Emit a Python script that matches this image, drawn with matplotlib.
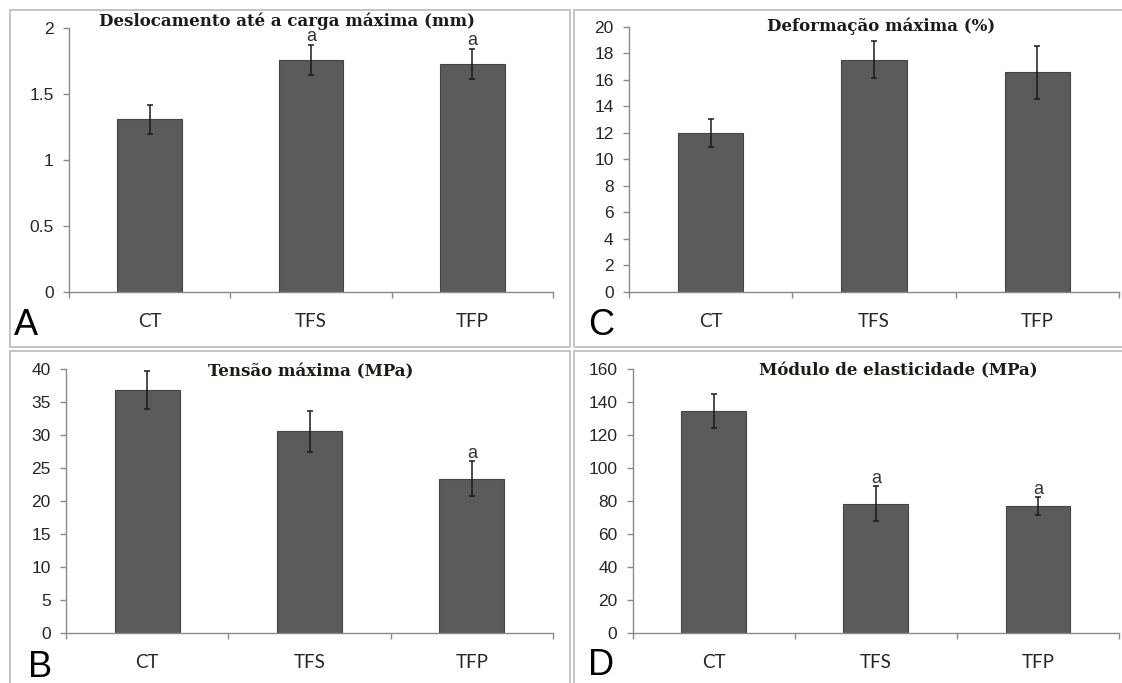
import matplotlib
matplotlib.use("Agg")
import matplotlib.pyplot as plt
from matplotlib.patches import Rectangle
from matplotlib.ticker import FuncFormatter

W, H = 1122, 683

categories = ["CT", "TFS", "TFP"]

desloc = [1.31, 1.76, 1.73]
desloc_err = [0.11, 0.115, 0.115]
desloc_sig = ["", "a", "a"]

deform = [11.95, 17.5, 16.55]
deform_err = [1.05, 1.4, 2.0]
deform_sig = ["", "", ""]

tensao = [36.9, 30.6, 23.4]
tensao_err = [2.85, 3.1, 2.65]
tensao_sig = ["", "", "a"]

modulo = [135.0, 78.5, 77.2]
modulo_err = [10.3, 10.6, 5.3]
modulo_sig = ["", "a", "a"]

titles = ["Deslocamento até a carga máxima (mm)", "Deformação máxima (%)",
          "Tensão máxima (MPa)", "Módulo de elasticidade (MPa)"]
panel_letters = ["A", "C", "B", "D"]

BAR = "#5b5b5b"
EDGE = "#444444"
SPINE = "#8a8a8a"
TXT = "#262626"

fig = plt.figure(figsize=(W / 100, H / 100), dpi=100)


def px_rect(x0, x1, ytop, ybot):
    return [x0 / W, 1 - ybot / H, (x1 - x0) / W, (ybot - ytop) / H]


# panel frames
for (x0, y0, x1, y1) in [(10, 10, 570, 347), (574, 10, 1130, 347),
                         (10, 351, 570, 695), (574, 351, 1130, 695)]:
    fig.patches.append(Rectangle((x0 / W, 1 - y1 / H), (x1 - x0) / W, (y1 - y0) / H,
                                 transform=fig.transFigure, fill=False,
                                 edgecolor="#c4c4c4", linewidth=1.4))

panels = [
    dict(vals=desloc, err=desloc_err, sig=desloc_sig, ymax=2, step=0.5,
         rect=px_rect(69, 553, 28.3, 291.7), title=titles[0], tpos=(287, 21.7),
         letter=panel_letters[0], lpos=(14, 335)),
    dict(vals=deform, err=deform_err, sig=deform_sig, ymax=20, step=2,
         rect=px_rect(629, 1119, 26.7, 291.7), title=titles[1], tpos=(881, 26.7),
         letter=panel_letters[1], lpos=(588, 335)),
    dict(vals=tensao, err=tensao_err, sig=tensao_sig, ymax=40, step=5,
         rect=px_rect(66, 553, 369.3, 633.3), title=titles[2], tpos=(311, 372.3),
         letter=panel_letters[2], lpos=(28, 677)),
    dict(vals=modulo, err=modulo_err, sig=modulo_sig, ymax=160, step=20,
         rect=px_rect(632.7, 1119, 369.3, 633.3), title=titles[3], tpos=(898, 370.7),
         letter=panel_letters[3], lpos=(588, 675)),
]

for p in panels:
    ax = fig.add_axes(p["rect"])
    x = list(range(len(categories)))
    ax.bar(x, p["vals"], width=0.4, color=BAR, edgecolor=EDGE, linewidth=0.8, zorder=2)
    ax.errorbar(x, p["vals"], yerr=p["err"], fmt="none", ecolor="#1a1a1a",
                elinewidth=1.1, capsize=2.3, capthick=1.1, zorder=3)
    for i, s in enumerate(p["sig"]):
        if s:
            ax.annotate(s, xy=(i, p["vals"][i] + p["err"][i]), xytext=(0, 2.5),
                        textcoords="offset points", ha="center", va="baseline",
                        fontsize=13, color="#333333", family="Liberation Sans",
                        annotation_clip=False, zorder=4)
    ax.set_xlim(-0.5, len(categories) - 0.5)
    ax.set_ylim(0, p["ymax"])
    n = int(round(p["ymax"] / p["step"]))
    ax.set_yticks([k * p["step"] for k in range(n + 1)])
    ax.yaxis.set_major_formatter(FuncFormatter(lambda v, pos: "%g" % v))
    ax.set_xticks([k - 0.5 for k in range(len(categories) + 1)])
    ax.set_xticklabels([])
    for s in ["top", "right"]:
        ax.spines[s].set_visible(False)
    for s in ["left", "bottom"]:
        ax.spines[s].set_color(SPINE)
        ax.spines[s].set_linewidth(1.0)
    ax.tick_params(axis="y", direction="out", length=4, width=1.0, color=SPINE,
                   pad=7, labelsize=12.5, labelcolor=TXT)
    ax.tick_params(axis="x", direction="out", length=4, width=1.0, color=SPINE)
    for lab in ax.get_yticklabels():
        lab.set_family("Liberation Sans")
    for i, c in enumerate(categories):
        ax.annotate(c, xy=(i, 0), xytext=(0, -25.2), textcoords="offset points",
                    ha="center", va="baseline", fontsize=13.5, color=TXT,
                    family="Lato", annotation_clip=False)
    ax.patch.set_alpha(0)
    fig.text(p["tpos"][0] / W, 1 - p["tpos"][1] / H, p["title"], ha="center",
             va="center", fontsize=12, fontweight="bold", family="DejaVu Serif",
             color="#1e1a16")
    fig.text(p["lpos"][0] / W, 1 - p["lpos"][1] / H, p["letter"], ha="left",
             va="baseline", fontsize=26, family="Liberation Sans", color="black")

fig.savefig("out.png", dpi=100, facecolor="white")
